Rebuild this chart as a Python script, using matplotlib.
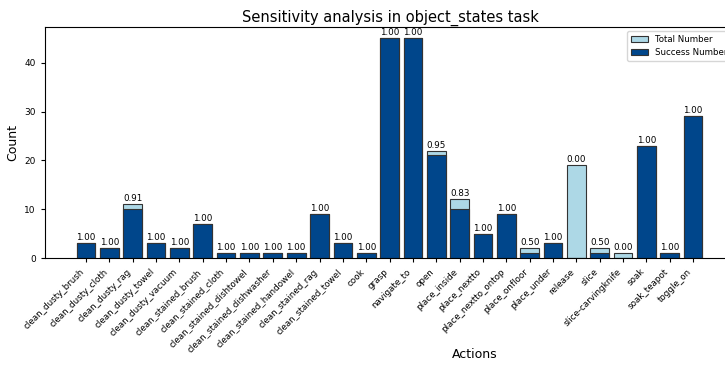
import matplotlib
matplotlib.use("Agg")
import matplotlib.pyplot as plt
import numpy as np

actions = [
    "clean_dusty_brush", "clean_dusty_cloth", "clean_dusty_rag", "clean_dusty_towel",
    "clean_dusty_vacuum", "clean_stained_brush", "clean_stained_cloth",
    "clean_stained_dishtowel", "clean_stained_dishwasher", "clean_stained_handowel",
    "clean_stained_rag", "clean_stained_towel", "cook", "grasp", "navigate_to", "open",
    "place_inside", "place_nextto", "place_nextto_ontop", "place_onfloor", "place_under",
    "release", "slice", "slice-carvingknife", "soak", "soak_teapot", "toggle_on",
]
total   = [3, 2, 11, 3, 2, 7, 1, 1, 1, 1, 9, 3, 1, 45, 45, 22, 12, 5, 9, 2, 3, 19, 2, 1, 23, 1, 29]
success = [3, 2, 10, 3, 2, 7, 1, 1, 1, 1, 9, 3, 1, 45, 45, 21, 10, 5, 9, 1, 3, 0, 1, 0, 23, 1, 29]

x = np.arange(len(actions))
rate = [s / t for s, t in zip(success, total)]

fig = plt.figure(figsize=(7.25, 3.66), dpi=100)
ax = fig.add_axes([0.062, 0.295, 0.952, 0.631])

ax.bar(x, total, width=0.8, color="lightblue", edgecolor="#333333", linewidth=0.8,
       label="Total Number")
ax.bar(x, success, width=0.8, color="#00468b", edgecolor="#333333", linewidth=0.8,
       label="Success Number")

# success rate above each bar
for xi, t, r in zip(x, total, rate):
    ax.text(xi, t + 0.2, f"{r:.2f}", ha="center", va="bottom", fontsize=6.3)

ax.set_xlim(-1.76, 27.8)
ax.set_ylim(0, 47.3)
ax.set_xticks(x)
ax.set_xticklabels(actions, rotation=45, ha="right", fontsize=6.3)
ax.tick_params(axis="y", labelsize=6.5)
ax.tick_params(length=3)
ax.set_title("Sensitivity analysis in object_states task", fontsize=10.5, pad=4)
ax.set_xlabel("Actions", fontsize=9)
ax.xaxis.set_label_coords(0.623, -0.39)
ax.set_ylabel("Count", fontsize=9)
ax.legend(loc="upper right", fontsize=6.2)

fig.savefig("out.png", dpi=100)
